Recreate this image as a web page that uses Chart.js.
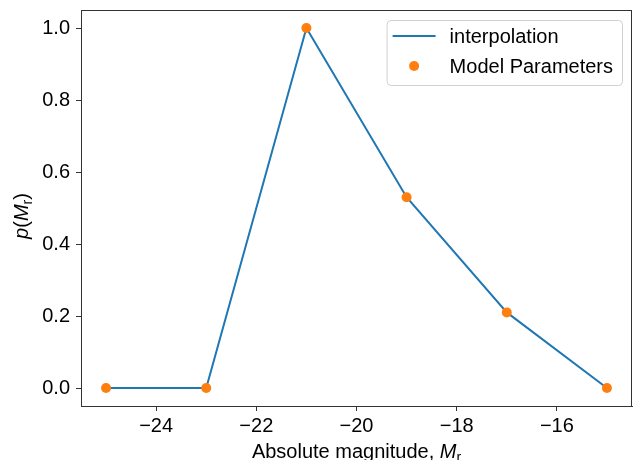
<!DOCTYPE html>
<html>
<head>
<meta charset="utf-8">
<script src="https://cdn.jsdelivr.net/npm/chart.js@4/dist/chart.umd.min.js"></script>
<style>
	html, body { margin: 0; padding: 0; background: #fff; }
	#wrap { width: 635px; height: 460px; }
</style>
</head>
<body>
<div id="wrap"><canvas id="lfChart" width="635" height="460"></canvas></div>
<script>
// magnitude bins and model parameters
var magnitudes = [-25, -23, -21, -19, -17, -15];
var probs = [0, 0, 1.0, 0.53, 0.21, 0];
var xTicks = [-24, -22, -20, -18, -16];
var yTicks = [0.0, 0.2, 0.4, 0.6, 0.8, 1.0];
var seriesNames = ['interpolation', 'Model Parameters'];
var xTitle = ['Absolute magnitude, ', 'M', 'r'];
var yTitle = ['p', '(', 'M', 'r', ')'];

var FONT = '"Liberation Sans", Arial, sans-serif';
var BLUE = '#1f77b4';
var ORANGE = '#ff7f0e';

function pts(xs, ys) {
	var out = [];
	for (var i in xs) {
		out.push({ x: xs[i], y: ys[i] });
	}
	return out;
}

function minus(v) {
	return v < 0 ? '\u2212' + Math.abs(v) : String(v);
}

// frame round the plot + axis titles + legend box like matplotlib
var extras = {
	id: 'extras',
	afterDraw: function(chart) {
		var ctx = chart.ctx;
		var a = chart.chartArea;
		ctx.save();
		ctx.strokeStyle = '#333';
		ctx.lineWidth = 1;
		ctx.strokeRect(Math.round(a.left) + 0.5, Math.round(a.top) + 0.5,
			Math.round(a.right - a.left) - 1, Math.round(a.bottom - a.top));

		// x title
		ctx.fillStyle = '#000';
		ctx.textBaseline = 'alphabetic';
		var f = '20px ' + FONT, fi = 'italic 20px ' + FONT, fs = '14px ' + FONT;
		ctx.font = f; var w0 = ctx.measureText(xTitle[0]).width;
		ctx.font = fi; var w1 = ctx.measureText(xTitle[1]).width;
		ctx.font = fs; var w2 = ctx.measureText(xTitle[2]).width;
		var x = (a.left + a.right) / 2 - (w0 + w1 + w2) / 2;
		var y = 458;
		ctx.font = f; ctx.fillText(xTitle[0], x, y);
		ctx.font = fi; ctx.fillText(xTitle[1], x + w0, y);
		ctx.font = fs; ctx.fillText(xTitle[2], x + w0 + w1, y + 4);

		// y title, rotated
		ctx.save();
		ctx.translate(28, (a.top + a.bottom) / 2 + 8);
		ctx.rotate(-Math.PI / 2);
		var parts = [[yTitle[0], fi, 0], [yTitle[1], f, 0], [yTitle[2], fi, 0], [yTitle[3], fs, 4], [yTitle[4], f, 0]];
		var tot = 0;
		parts.forEach(function(p) { ctx.font = p[1]; p.push(ctx.measureText(p[0]).width); tot += p[3]; });
		var cx = -tot / 2;
		parts.forEach(function(p) { ctx.font = p[1]; ctx.fillText(p[0], cx, p[2]); cx += p[3]; });
		ctx.restore();

		// legend
		ctx.font = f;
		var tw = Math.max(ctx.measureText(seriesNames[0]).width, ctx.measureText(seriesNames[1]).width);
		var bw = 63 + tw + 9, bh = 65;
		var bx = a.right - 10 - bw, by = a.top + 10;
		ctx.beginPath();
		ctx.roundRect(bx + 0.5, by + 0.5, bw, bh, 4);
		ctx.fillStyle = 'rgba(255,255,255,0.8)';
		ctx.fill();
		ctx.strokeStyle = '#d0d0d0';
		ctx.stroke();
		ctx.strokeStyle = BLUE;
		ctx.lineWidth = 2;
		ctx.beginPath();
		ctx.moveTo(bx + 6, by + 16);
		ctx.lineTo(bx + 49, by + 16);
		ctx.stroke();
		ctx.fillStyle = ORANGE;
		ctx.beginPath();
		ctx.arc(bx + 27.5, by + 46, 5, 0, Math.PI * 2);
		ctx.fill();
		ctx.fillStyle = '#000';
		ctx.textBaseline = 'middle';
		ctx.fillText(seriesNames[0], bx + 63, by + 17);
		ctx.fillText(seriesNames[1], bx + 63, by + 47);
		ctx.restore();
	}
};

var lfChart = new Chart(document.getElementById('lfChart'), {
	type: 'scatter',
	data: {
		datasets: [ {
			label: seriesNames[1],
			data: pts(magnitudes, probs),
			backgroundColor: ORANGE,
			borderColor: ORANGE,
			pointRadius: 5,
			pointBorderWidth: 0,
			showLine: false,
			order: 0
		}, {
			label: seriesNames[0],
			data: pts(magnitudes, probs),
			borderColor: BLUE,
			backgroundColor: BLUE,
			borderWidth: 2,
			pointRadius: 0,
			showLine: true,
			tension: 0,
			order: 1
		} ]
	},
	plugins: [extras],
	options: {
		responsive: false,
		animation: false,
		layout: { autoPadding: false, padding: { top: 10, right: 3, left: 0, bottom: 0 } },
		plugins: {
			legend: { display: false },
			tooltip: { enabled: false }
		},
		scales: {
			x: {
				type: 'linear',
				min: -25.5,
				max: -14.5,
				afterBuildTicks: function(scale) {
					scale.ticks = xTicks.map(function(v) { return { value: v }; });
				},
				afterFit: function(scale) {
					scale.height = 54;
					scale.paddingLeft = 0;
					scale.paddingRight = 0;
				},
				grid: { drawOnChartArea: false, tickLength: 5, color: '#333', tickColor: '#333' },
				border: { color: '#333' },
				ticks: {
					color: '#000',
					padding: 3,
					maxRotation: 0,
					font: { family: FONT, size: 20 },
					callback: function(v) { return minus(v); }
				}
			},
			y: {
				type: 'linear',
				min: -0.05,
				max: 1.05,
				afterBuildTicks: function(scale) {
					scale.ticks = yTicks.map(function(v) { return { value: v }; });
				},
				afterFit: function(scale) {
					scale.width = 81;
					scale.paddingTop = 0;
					scale.paddingBottom = 0;
				},
				grid: { drawOnChartArea: false, tickLength: 5, color: '#333', tickColor: '#333' },
				border: { color: '#333' },
				ticks: {
					color: '#000',
					padding: 6,
					font: { family: FONT, size: 20 },
					callback: function(v) { return Number(v).toFixed(1); }
				}
			}
		}
	}
});
</script>
</body>
</html>
